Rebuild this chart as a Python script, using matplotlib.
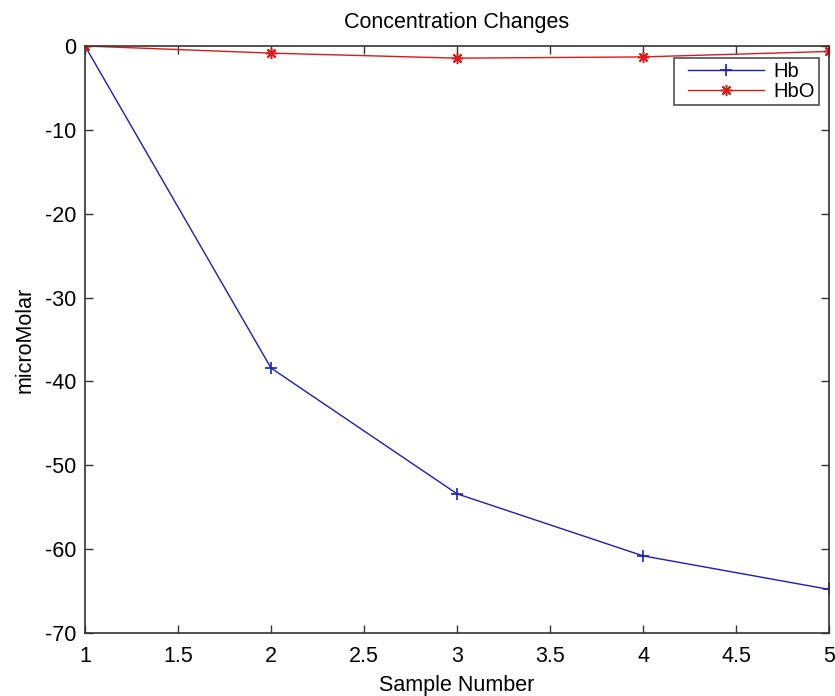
import matplotlib
matplotlib.use("Agg")
import matplotlib.pyplot as plt
from matplotlib.legend_handler import HandlerLine2D

samples = [1, 2, 3, 4, 5]
hb = [0.0, -38.4, -53.4, -60.8, -64.8]
hbo = [0.0, -0.85, -1.45, -1.3, -0.65]
xticks = [1, 1.5, 2, 2.5, 3, 3.5, 4, 4.5, 5]
yticks = [0, -10, -20, -30, -40, -50, -60, -70]

plt.rcParams['font.family'] = ['Liberation Sans', 'DejaVu Sans']
fs = 15.5

fig = plt.figure(figsize=(8.35, 6.96), dpi=100)
ax = fig.add_axes([85/835, 1-633/696, (829-85)/835, (633-46)/696])

l1, = ax.plot(samples, hb, color='#1c1cc0', lw=1.0, marker='+', ms=9, mew=1.2, label='Hb')
l2, = ax.plot(samples, hbo, color='#e01818', lw=1.0, marker=(8, 2, 0), ms=8, mew=1.1, label='HbO')

ax.set_xlim(1, 5)
ax.set_ylim(-70, 0)
ax.set_xticks(xticks)
ax.set_xticklabels([f"{t:g}" for t in xticks])
ax.set_yticks(yticks)
ax.set_yticklabels([f"{t:g}" for t in yticks])
ax.tick_params(direction='in', length=6, width=1, top=True, right=True,
               labelsize=fs, color='#333333')
ax.tick_params(axis='x', pad=9)
ax.tick_params(axis='y', pad=6)
for s in ax.spines.values():
    s.set_color('#333333')
    s.set_linewidth(1.2)

ax.set_title('Concentration Changes', fontsize=fs, pad=13)
ax.set_xlabel('Sample Number', fontsize=fs, labelpad=6)
ax.set_ylabel('microMolar', fontsize=fs, labelpad=7)

hmap = {l1: HandlerLine2D(xpad=0.5), l2: HandlerLine2D(xpad=0.5)}
leg = ax.legend(loc='upper right', bbox_to_anchor=(819/835, 1-58/696),
                bbox_transform=fig.transFigure, borderaxespad=0,
                fontsize=14.5, frameon=True, fancybox=False,
                edgecolor='#222222', handlelength=4.3, handletextpad=0.45,
                borderpad=0.2, labelspacing=0.05, handler_map=hmap)
leg.get_frame().set_linewidth(1.2)

fig.savefig('out.png', dpi=100)
